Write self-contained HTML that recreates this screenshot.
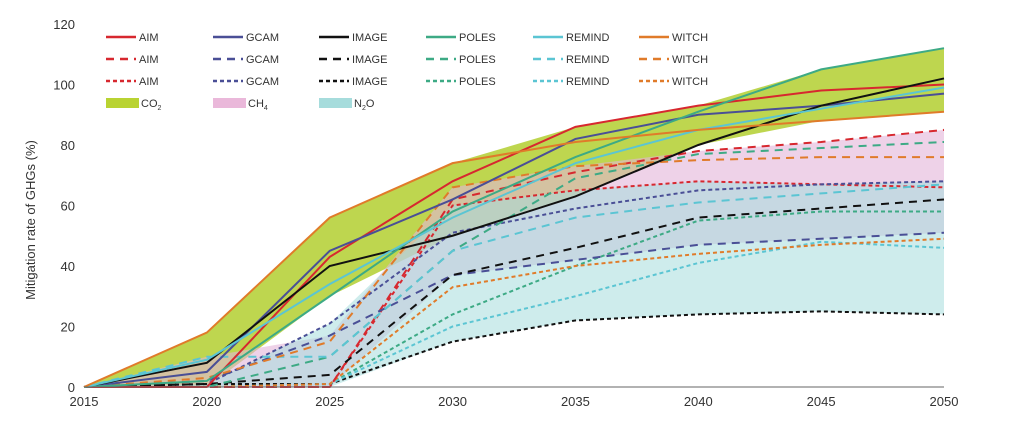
<!DOCTYPE html>
<html><head><meta charset="utf-8"><style>
body{margin:0;background:#fff;font-family:"Liberation Sans",sans-serif}
svg text{font-family:"Liberation Sans",sans-serif;fill:#333}
</style></head><body>
<svg id="chart" width="1024" height="422" viewBox="0 0 1024 422" xmlns="http://www.w3.org/2000/svg">
<g id="bands"></g>
<g id="lines"></g>
<g id="axes"></g>
<g id="legend"></g>
<text transform="translate(35,220) rotate(-90)" text-anchor="middle" font-size="13">Mitigation rate of GHGs (%)</text>
</svg>
<script>
const years=[2015,2020,2025,2030,2035,2040,2045,2050];
const yTicks=[0,20,40,60,80,100,120];
const models=["AIM","GCAM","IMAGE","POLES","REMIND","WITCH"];
const colors=["#d7282f","#4a4f96","#111111","#3daa85","#5bc5d3","#e07b2a"];
// CO2 (solid)
const co2AIM=[0,0,43,68,86,93,98,100];
const co2GCAM=[0,5,45,62,82,90,93,97];
const co2IMAGE=[0,8,40,50,63,80,93,102];
const co2POLES=[0,2,30,58,76,91,105,112];
const co2REMIND=[0,9,34,56,74,85,92,99];
const co2WITCH=[0,18,56,74,81,85,88,91];
// CH4 (long dash)
const ch4AIM=[0,0,0,62,71,78,81,85];
const ch4GCAM=[0,2,17,37,42,47,49,51];
const ch4IMAGE=[0,1,4,37,46,56,59,62];
const ch4POLES=[0,0,10,45,69,77,79,81];
const ch4REMIND=[0,10,10,45,56,61,64,67];
const ch4WITCH=[0,3,15,66,73,75,76,76];
// N2O (short dash)
const n2oAIM=[0,0,0,60,65,68,67,66];
const n2oGCAM=[0,1,21,51,59,65,67,68];
const n2oIMAGE=[0,1,1,15,22,24,25,24];
const n2oPOLES=[0,0,1,24,40,55,58,58];
const n2oREMIND=[0,0,1,20,30,41,48,46];
const n2oWITCH=[0,0,1,33,40,44,47,49];

const co2=[co2AIM,co2GCAM,co2IMAGE,co2POLES,co2REMIND,co2WITCH];
const ch4=[ch4AIM,ch4GCAM,ch4IMAGE,ch4POLES,ch4REMIND,ch4WITCH];
const n2o=[n2oAIM,n2oGCAM,n2oIMAGE,n2oPOLES,n2oREMIND,n2oWITCH];

const X0=84,X1=944,Y0=387,Y1=24;
function xs(y){return X0+(y-2015)/(2050-2015)*(X1-X0);}
function ys(v){return Y0-v/120*(Y0-Y1);}
const NS="http://www.w3.org/2000/svg";
function mk(t,a,p){const e=document.createElementNS(NS,t);for(const k in a)e.setAttribute(k,a[k]);p.appendChild(e);return e;}

const bandG=document.getElementById('bands');
function band(set,fill,op,name){
  const mx=years.map((_,i)=>Math.max(...set.map(s=>s[i])));
  const mn=years.map((_,i)=>Math.min(...set.map(s=>s[i])));
  let d=years.map((y,i)=>(i?'L':'M')+xs(y)+','+ys(mx[i])).join('');
  for(let i=years.length-1;i>=0;i--)d+='L'+xs(years[i])+','+ys(mn[i]);
  const p=mk('path',{d:d+'Z',fill:fill,'fill-opacity':op},bandG);
  
  
}
band(co2,'#a8c814',0.75,'co2-band');
band(ch4,'#e2b4d8',0.6,'ch4-band');
band(n2o,'#a6dcdc',0.55,'n2o-band');

const lineG=document.getElementById('lines');
function lines(set,dash,w,tag){
  set.forEach((s,k)=>{
    const d=s.map((v,i)=>(i?'L':'M')+xs(years[i])+','+ys(v)).join('');
    const a={d:d,fill:'none',stroke:colors[k],'stroke-width':w};
    if(dash)a['stroke-dasharray']=dash;
    const p=mk('path',a,lineG);
    
    
  });
}
lines(n2o,'4,3',2,'n2o');
lines(ch4,'8,6',2,'ch4');
lines(co2,null,2,'co2');

const ax=document.getElementById('axes');
mk('line',{x1:X0,x2:X1,y1:Y0,y2:Y0,stroke:'#666','stroke-width':1},ax);
yTicks.forEach(v=>{const t=mk('text',{x:75,y:ys(v)+5,'text-anchor':'end','font-size':13},ax);t.textContent=v;
 
 });
years.forEach(y=>{const t=mk('text',{x:xs(y),y:406,'text-anchor':'middle','font-size':13},ax);t.textContent=y;
 
 });

const lg=document.getElementById('legend');
const colX=[106,213,319,426,533,639];
const rowY=[37,59,81];
const dashes=[null,'8,6','4,3'];
models.forEach((m,k)=>{
  rowY.forEach((ry,r)=>{
    const a={x1:colX[k],x2:colX[k]+30,y1:ry,y2:ry,stroke:colors[k],'stroke-width':2.5};
    if(dashes[r])a['stroke-dasharray']=dashes[r];
    const l=mk('line',a,lg);
    
    
    const t=mk('text',{x:colX[k]+33,y:ry+4,'font-size':11},lg);t.textContent=m;
    
    
  });
});
const gases=[['CO','2','#b9d332'],['CH','4','#eab8da'],['N','2','#a6dcdc']];
gases.forEach((g,k)=>{
  const r=mk('rect',{x:colX[k],y:98,width:33,height:10,fill:g[2]},lg);
  
  
  const t=mk('text',{x:colX[k]+35,y:107,'font-size':11},lg);
  
  
  t.appendChild(document.createTextNode(g[0]));
  const s=mk('tspan',{'font-size':7,dy:3},t);s.textContent=g[1];
  if(k===2){const o=mk('tspan',{'font-size':11,dy:-3},t);o.textContent='O';}
});
</script>
</body></html>
